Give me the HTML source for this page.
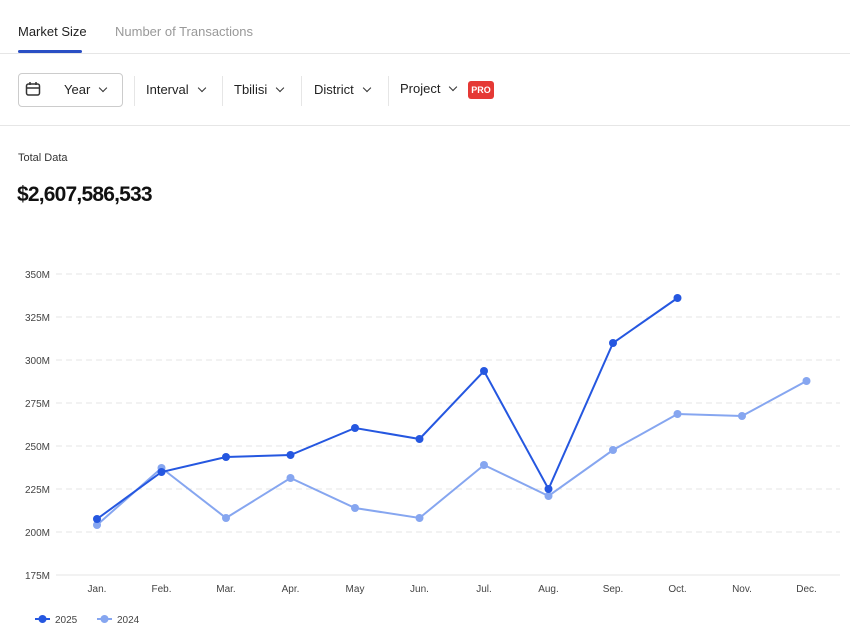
<!DOCTYPE html>
<html><head><style>
body{margin:0;width:850px;height:637px;background:#fff;font-family:"Liberation Sans",sans-serif;position:relative;overflow:hidden;color:#222}
.a{position:absolute;white-space:nowrap}
.chev{display:inline-block;width:5px;height:5px;border-right:1.5px solid #333;border-bottom:1.5px solid #333;transform:rotate(45deg);margin-left:10px;position:relative;top:-3px}
.sep{position:absolute;top:76px;width:1px;height:30px;background:#e6e6e6}
</style></head><body>
<div class="a" style="left:18px;top:24px;font-size:13px;color:#222">Market Size</div>
<div style="position:absolute;left:18px;top:50px;width:64px;height:3px;background:#2a4fc4;border-radius:2px"></div>
<div class="a" style="left:115px;top:24px;font-size:13px;color:#999">Number of Transactions</div>
<div style="position:absolute;left:0;top:53px;width:850px;height:1px;background:#e6e6e6"></div>
<div style="position:absolute;left:18px;top:73px;width:103px;height:32px;border:1px solid #ccc;border-radius:4px"></div>
<svg class="a" style="left:25px;top:81px" width="16" height="16"><rect x="1.5" y="3" width="13" height="11" rx="2" fill="none" stroke="#333" stroke-width="1.5"/><line x1="1.5" y1="7" x2="14.5" y2="7" stroke="#333" stroke-width="1.5"/><line x1="5" y1="1" x2="5" y2="4" stroke="#333" stroke-width="1.5"/><line x1="11" y1="1" x2="11" y2="4" stroke="#333" stroke-width="1.5"/></svg>
<div class="a" style="left:64px;top:82px;font-size:13px">Year<span class="chev"></span></div>
<div class="sep" style="left:134px"></div>
<div class="a" style="left:146px;top:82px;font-size:13px">Interval<span class="chev"></span></div>
<div class="sep" style="left:222px"></div>
<div class="a" style="left:234px;top:82px;font-size:13px">Tbilisi<span class="chev"></span></div>
<div class="sep" style="left:301px"></div>
<div class="a" style="left:314px;top:82px;font-size:13px">District<span class="chev"></span></div>
<div class="sep" style="left:388px"></div>
<div class="a" style="left:400px;top:81px;font-size:13px">Project<span class="chev"></span></div>
<div class="a" style="left:468px;top:81px;width:26px;height:18px;background:#e53935;border-radius:3px;color:#fff;font-size:9px;font-weight:bold;line-height:18px;text-align:center">PRO</div>
<div style="position:absolute;left:0;top:125px;width:850px;height:1px;background:#e6e6e6"></div>
<div class="a" style="left:18px;top:152px;font-size:11px;color:#333">Total Data</div>
<div class="a" style="left:17px;top:183px;font-size:21px;font-weight:bold;color:#111;letter-spacing:-0.8px">$2,607,586,533</div>
<svg class="a" style="left:0;top:0" width="850" height="637" font-family="Liberation Sans,sans-serif" font-size="10" fill="#444">
<g stroke="#e4e4e4" stroke-dasharray="6,4">
<line x1="56" x2="840" y1="274" y2="274"/><line x1="56" x2="840" y1="317" y2="317"/><line x1="56" x2="840" y1="360" y2="360"/><line x1="56" x2="840" y1="403" y2="403"/><line x1="56" x2="840" y1="446" y2="446"/><line x1="56" x2="840" y1="489" y2="489"/><line x1="56" x2="840" y1="532" y2="532"/></g>
<line x1="56" x2="840" y1="575" y2="575" stroke="#e4e4e4"/>
<g text-anchor="end"><text x="50" y="278">350M</text><text x="50" y="321">325M</text><text x="50" y="364">300M</text><text x="50" y="407">275M</text><text x="50" y="450">250M</text><text x="50" y="493">225M</text><text x="50" y="536">200M</text><text x="50" y="579">175M</text></g>
<g text-anchor="middle"><text x="97" y="592">Jan.</text><text x="161.5" y="592">Feb.</text><text x="226" y="592">Mar.</text><text x="290.5" y="592">Apr.</text><text x="355" y="592">May</text><text x="419.5" y="592">Jun.</text><text x="484" y="592">Jul.</text><text x="548.5" y="592">Aug.</text><text x="613" y="592">Sep.</text><text x="677.5" y="592">Oct.</text><text x="742" y="592">Nov.</text><text x="806.5" y="592">Dec.</text></g>
<g stroke="#86a6f0" stroke-width="2" fill="#86a6f0">
<polyline fill="none" points="97,525 161.5,468 226,518 290.5,478 355,508 419.5,518 484,465 548.5,496 613,450 677.5,414 742,416 806.5,381"/>
<g stroke="none"><circle cx="97" cy="525" r="4"/><circle cx="161.5" cy="468" r="4"/><circle cx="226" cy="518" r="4"/><circle cx="290.5" cy="478" r="4"/><circle cx="355" cy="508" r="4"/><circle cx="419.5" cy="518" r="4"/><circle cx="484" cy="465" r="4"/><circle cx="548.5" cy="496" r="4"/><circle cx="613" cy="450" r="4"/><circle cx="677.5" cy="414" r="4"/><circle cx="742" cy="416" r="4"/><circle cx="806.5" cy="381" r="4"/></g></g>
<g stroke="#2557e0" stroke-width="2" fill="#2557e0">
<polyline fill="none" points="97,519 161.5,472 226,457 290.5,455 355,428 419.5,439 484,371 548.5,489 613,343 677.5,298"/>
<g stroke="none"><circle cx="97" cy="519" r="4"/><circle cx="161.5" cy="472" r="4"/><circle cx="226" cy="457" r="4"/><circle cx="290.5" cy="455" r="4"/><circle cx="355" cy="428" r="4"/><circle cx="419.5" cy="439" r="4"/><circle cx="484" cy="371" r="4"/><circle cx="548.5" cy="489" r="4"/><circle cx="613" cy="343" r="4"/><circle cx="677.5" cy="298" r="4"/></g></g>
<line x1="35" x2="50" y1="619" y2="619" stroke="#2557e0" stroke-width="2"/><circle cx="42.5" cy="619" r="4" fill="#2557e0"/>
<text x="55" y="623" fill="#444">2025</text>
<line x1="97" x2="112" y1="619" y2="619" stroke="#86a6f0" stroke-width="2"/><circle cx="104.5" cy="619" r="4" fill="#86a6f0"/>
<text x="117" y="623" fill="#444">2024</text>
</svg>
</body></html>
